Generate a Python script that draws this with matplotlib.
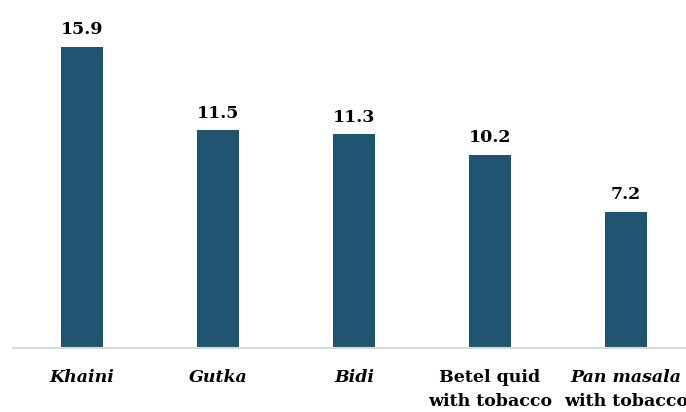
import matplotlib.pyplot as plt
from matplotlib.transforms import blended_transform_factory

# data
categories = ["Khaini", "Gutka", "Bidi", "Betel quid", "Pan masala"]
second_line = ["", "", "", "with tobacco", "with tobacco"]
first_italic = [True, True, True, False, True]
values = [15.9, 11.5, 11.3, 10.2, 7.2]

BAR_COLOR = "#1F5570"
FONT = "DejaVu Serif"

fig = plt.figure(figsize=(6.86, 4.12), dpi=100)
ax = fig.add_axes([13 / 686, 1 - 348 / 412, 1 - 13 / 686, (348 - 17) / 412])

x = list(range(len(categories)))
ax.bar(x, values, width=0.31, color=BAR_COLOR, zorder=2)

for xi, v in zip(x, values):
    ax.text(xi, v + 0.45, f"{v}", ha="center", va="bottom", family=FONT,
            fontweight="bold", fontsize=12.5, color="black")

tr = blended_transform_factory(ax.transData, fig.transFigure)
for xi, c, s, it in zip(x, categories, second_line, first_italic):
    ax.text(xi, 1 - 378 / 412, c, ha="center", va="center", family=FONT,
            fontweight="bold", fontstyle="italic" if it else "normal",
            fontsize=12.5, transform=tr, clip_on=False)
    if s:
        ax.text(xi, 1 - 402 / 412, s, ha="center", va="center", family=FONT,
                fontweight="bold", fontsize=12.5, transform=tr, clip_on=False)

ax.set_xlim(-69 / 136, (686 - 82) / 136)
ax.set_ylim(0, 331 / 18.93)

for side in ["top", "right", "left"]:
    ax.spines[side].set_visible(False)
ax.spines["bottom"].set_color("#D9D9D9")
ax.spines["bottom"].set_linewidth(1.5)
ax.set_xticks([])
ax.set_yticks([])

fig.savefig("out.png", dpi=100)
